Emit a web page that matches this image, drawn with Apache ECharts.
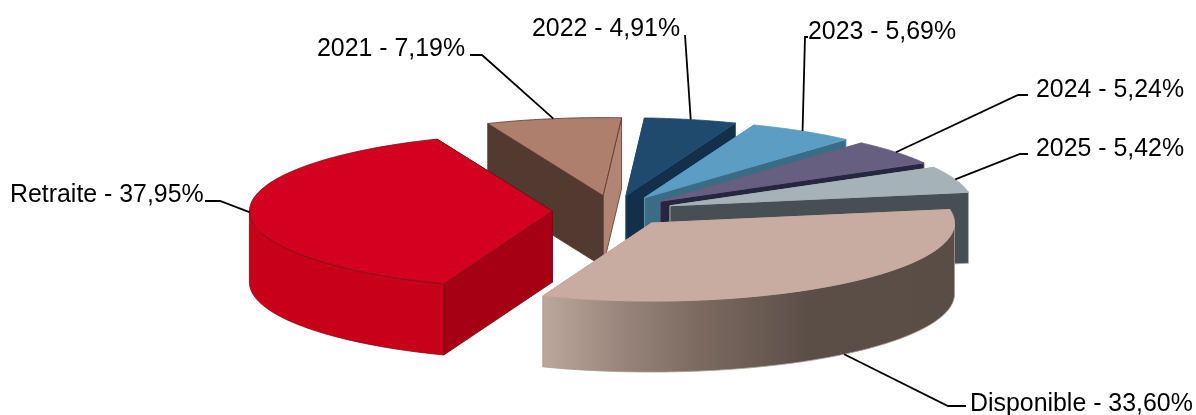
<!DOCTYPE html>
<html>
<head>
<meta charset="utf-8">
<style>html,body{margin:0;padding:0;background:#fff}#chart{width:1196px;height:415px}</style>
<script src="https://cdn.jsdelivr.net/npm/echarts@6/dist/echarts.min.js"></script>
</head>
<body>
<div id="chart"></div>
<script>
// Shares of the savings plan, in clockwise order around the pie
const categories = ['Retraite', '2021', '2022', '2023', '2024', '2025', 'Disponible'];
const shares = [37.95, 7.19, 4.91, 5.69, 5.24, 5.42, 33.60];

// Slice colours: top face, wall at the start edge, wall at the end edge, outline
const topColors = ['#d3001f', '#ae7f6d', '#1f4a6e', '#5b9dc3', '#675f80', '#a5b2b7', '#c9aca1'];
const startWallColors = ['#a50014', '#523a30', '#173a57', '#4b7b96', '#3a3b52', '#484f54', '#5c4f48'];
const endWallColors = ['#a50014', '#b08573', '#13304a', '#3a6c85', '#25263f', '#484f54', '#5c4f48'];
const outlineColors = ['#7d0a16', '#5d3528', '#1f4a6e', '#5b9dc3', '#675f80', '#a5b2b7', '#c9aca1'];

// Stacking of the slices, far ones first; the red slice sits above 2021
const paintRank = [1, 0, 2, 3, 4, 5, 6];

// Leader line routing: the bend and the end next to the label, then the label's left edge and middle
const labelBends = [[220, 201], [482, 55], [685, 35], [805, 37], [1018, 95], [1020, 154], [948, 406]];
const labelEnds = [[205, 201], [470, 55], [685, 35], [808, 37], [1028, 95], [1028, 154], [966, 406]];
const labelAt = [[10, 195], [317, 49], [532, 29], [808, 32], [1036, 90], [1036, 149], [970, 404]];
const leaderOnBase = [false, false, false, false, false, false, true];

// Pie projection: an ellipse seen from above, with each slice pulled out along its bisector
const center = [613, 211];
const radiusX = 303;
const radiusY = 78;
const depth = 71;
const explode = 0.2;
const firstAngle = 201; // degrees clockwise from the far side
const total = shares.reduce((a, b) => a + b, 0);

const rad = d => d * Math.PI / 180;
const unit = d => [Math.sin(rad(d)) * radiusX, -Math.cos(rad(d)) * radiusY];

function sliceElements(index, value) {
  let from = firstAngle;
  for (let i = 0; i < index; i++) from += shares[i] / total * 360;
  from = from % 360;
  const to = from + value / total * 360;
  const mid = (from + to) / 2;
  const pull = unit(mid);
  const ax = center[0] + pull[0] * explode;
  const ay = center[1] + pull[1] * explode;
  const edge = (d, drop) => {
    const u = unit(d);
    return [ax + u[0], ay + u[1] + drop];
  };
  const apex = [ax, ay];
  const apexLow = [ax, ay + depth];

  const arc = [];
  for (let k = 0; k <= 48; k++) arc.push(edge(from + (to - from) * k / 48, 0));

  const zBase = paintRank[index] * 10;
  const stroke = outlineColors[index];
  const poly = (points, fill, z) => ({
    type: 'polygon',
    z2: zBase + z,
    shape: { points },
    style: { fill, stroke, lineWidth: 0.8, lineJoin: 'round' }
  });

  // The radial wall nearer the viewer goes on top of the other one
  const startNearer = unit(from)[1] > unit(to)[1];
  const parts = [
    poly([apex, edge(to, 0), edge(to, depth), apexLow], endWallColors[index], startNearer ? 0 : 1),
    poly([apex, edge(from, 0), edge(from, depth), apexLow], startWallColors[index], startNearer ? 1 : 0)
  ];

  // Outer wall: only the stretch of arc turned toward the viewer
  const loA = Math.max(from, 90), hiA = Math.min(to, 270);
  if (hiA > loA) {
    const up = [], low = [];
    for (let k = 0; k <= 48; k++) {
      const d = loA + (hiA - loA) * k / 48;
      up.push(edge(d, 0));
      low.unshift(edge(d, depth));
    }
    const isDisponible = categories[index] === 'Disponible';
    const fill = isDisponible
      ? { type: 'linear', x: 1, y: 0, x2: 0, y2: 0, colorStops: [
          { offset: 0, color: '#5a4d46' }, { offset: 0.35, color: '#5b4e47' },
          { offset: 0.62, color: '#7c6a60' }, { offset: 0.8, color: '#978379' }, { offset: 1, color: '#bca79c' }] }
      : '#c90019';
    parts.push({
      type: 'polygon', z2: zBase + 2,
      shape: { points: up.concat(low) },
      style: { fill, stroke: isDisponible ? '#a89b93' : stroke, lineWidth: 0.8 }
    });
  }
  parts.push(poly([apex].concat(arc), topColors[index], 3));

  // Leader line and label, both above every slice
  const anchor = edge(mid, leaderOnBase[index] ? depth : 0);
  parts.push({
    type: 'polyline', z2: 200,
    shape: { points: [anchor, labelBends[index], labelEnds[index]] },
    style: { fill: null, stroke: '#000', lineWidth: 1.8 }
  });
  parts.push({
    type: 'text', z2: 201,
    style: {
      text: categories[index] + ' - ' + value.toFixed(2).replace('.', ',') + '%',
      x: labelAt[index][0], y: labelAt[index][1],
      fill: '#000', fontFamily: '"Liberation Sans", Arial, sans-serif', fontSize: 24.9,
      textAlign: 'left', textVerticalAlign: 'middle'
    }
  });
  return parts;
}

const chart = echarts.init(document.getElementById('chart'), null, { renderer: 'canvas' });
chart.setOption({
  animation: false,
  backgroundColor: '#fff',
  series: [{
    type: 'custom',
    coordinateSystem: 'none',
    silent: true,
    data: categories.map((c, i) => [i, shares[i]]),
    renderItem: (params, api) => ({
      type: 'group',
      children: sliceElements(api.value(0), api.value(1))
    })
  }]
});
</script>
</body>
</html>
